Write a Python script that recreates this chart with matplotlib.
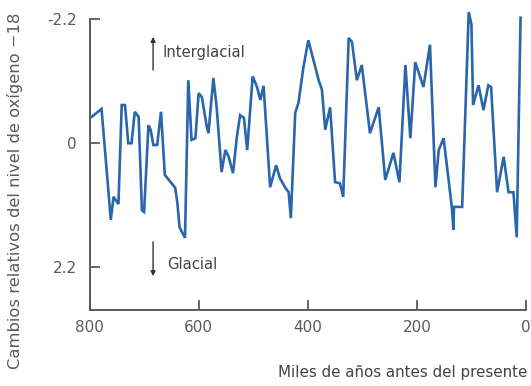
import matplotlib
matplotlib.use("Agg")
import matplotlib.pyplot as plt

# Miles de años antes del presente
miles_anios = [796, 778, 761, 756, 747, 741, 735, 729, 723, 717, 710, 704, 700,
               692, 688, 683, 676, 669, 662, 643, 639, 635, 625, 619, 613, 606,
               600, 594, 585, 582, 573, 567, 558, 551, 545, 537, 530, 524, 517,
               511, 501, 493, 487, 481, 469, 458, 451, 441, 435, 431, 423, 417,
               408, 399, 380, 374, 368, 359, 350, 341, 335, 325, 319, 310, 301,
               286, 270, 258, 243, 232, 221, 212, 203, 188, 176, 166, 160, 151,
               136, 133, 132, 117, 105, 100, 97, 87, 78, 69, 64, 53, 41, 32, 23,
               17, 10]
# Cambio relativo del nivel de oxígeno-18 (eje invertido)
delta_o18 = [-0.46, -0.60, 1.37, 0.96, 1.09, -0.67, -0.67, 0.01, 0.01, -0.55,
             -0.46, 1.20, 1.23, -0.31, -0.23, 0.04, 0.04, -0.55, 0.57, 0.80,
             1.07, 1.50, 1.69, -1.11, -0.05, -0.08, -0.88, -0.81, -0.28, -0.17,
             -1.15, -0.63, 0.52, 0.13, 0.25, 0.54, -0.10, -0.49, -0.44, 0.13,
             -1.18, -0.99, -0.76, -1.01, 0.79, 0.40, 0.63, 0.80, 0.88, 1.34,
             -0.53, -0.71, -1.34, -1.82, -1.11, -0.94, -0.23, -0.63, 0.70, 0.72,
             0.96, -1.86, -1.79, -1.11, -1.38, -0.17, -0.63, 0.66, 0.18, 0.70,
             -1.38, -0.08, -1.43, -0.99, -1.74, 0.79, 0.13, -0.08, 1.14, 1.55,
             1.14, 1.14, -2.32, -2.10, -0.67, -1.02, -0.58, -1.02, -0.99, 0.88,
             0.25, 0.88, 0.88, 1.68, -2.22]

ticks_x = [800, 600, 400, 200, 0]
ticks_y = [-2.2, 0, 2.2]
etiquetas_y = ["-2.2", "0", "2.2"]

GRIS = "#5a5a5a"
AZUL = "#2a66ab"

fig = plt.figure(figsize=(5.31, 3.86), dpi=100)
ax = fig.add_axes([0.1686, 0.197, 0.822, 0.7906])

ax.plot(miles_anios, delta_o18, color=AZUL, linewidth=1.9,
        solid_joinstyle="miter")

ax.set_xlim(800, 0)
ax.set_ylim(2.97, -2.45)

for lado in ("top", "right"):
    ax.spines[lado].set_visible(False)
for lado in ("left", "bottom"):
    ax.spines[lado].set_color(GRIS)
    ax.spines[lado].set_linewidth(1.4)
ax.spines["left"].set_bounds(2.97, -2.2)

ax.set_xticks(ticks_x)
ax.set_yticks(ticks_y)
ax.set_yticklabels(etiquetas_y)
ax.tick_params(direction="in", length=7, width=1.3, colors=GRIS,
               labelsize=11, pad=7)
ax.tick_params(axis="y", pad=9)

fig.text(0.028, 0.505, "Cambios relativos del nivel de oxígeno \u221218",
         rotation=90, ha="center", va="center", fontsize=11.8, color=GRIS)
fig.text(0.993, 0.036, "Miles de años antes del presente",
         ha="right", va="center", fontsize=10.9, color="#444444")

# Flechas de Interglacial / Glacial
flecha = dict(arrowstyle="-|>", color="#333333", lw=1.0, mutation_scale=7,
              shrinkA=0, shrinkB=0)
ax.annotate("", xy=(683.5, -1.88), xytext=(683.5, -1.29), arrowprops=flecha)
ax.text(667, -1.61, "Interglacial", ha="left", va="center",
        fontsize=10.6, color="#444444")
ax.annotate("", xy=(683.5, 2.37), xytext=(683.5, 1.76), arrowprops=flecha)
ax.text(658, 2.17, "Glacial", ha="left", va="center",
        fontsize=10.6, color="#444444")

fig.savefig("out.png", dpi=100)
